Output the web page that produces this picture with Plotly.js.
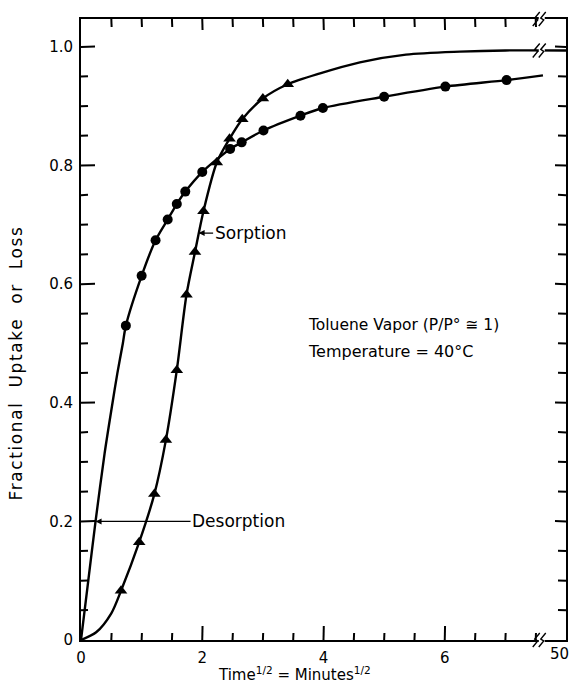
<!DOCTYPE html>
<html>
<head>
<meta charset="utf-8">
<script src="https://cdn.plot.ly/plotly-3.0.1.min.js"></script>
<style>html,body{margin:0;padding:0;background:#fff;}</style>
</head>
<body>
<div id="chart" style="width:571px;height:685px;"></div>
<script>
// Desorption (circles) measured points
const desorpX = [0.74, 1.00, 1.23, 1.43, 1.58, 1.72, 2.00, 2.46, 2.65, 3.01, 3.62, 3.99, 5.00, 6.01, 7.02];
const desorpY = [0.530, 0.614, 0.674, 0.709, 0.735, 0.756, 0.789, 0.828, 0.839, 0.859, 0.884, 0.897, 0.916, 0.933, 0.944];
// Desorption smooth curve
const desorpCurveX = [0, 0.12, 0.24, 0.39, 0.52, 0.60, 0.69, 0.74, 1.00, 1.23, 1.43, 1.58, 1.72, 2.00, 2.46, 2.65, 3.01, 3.62, 3.99, 5.00, 6.01, 7.02, 7.62];
const desorpCurveY = [0, 0.100, 0.200, 0.315, 0.400, 0.450, 0.500, 0.530, 0.614, 0.674, 0.709, 0.735, 0.756, 0.789, 0.828, 0.839, 0.859, 0.884, 0.897, 0.916, 0.933, 0.944, 0.952];

// Sorption (triangles) measured points
const sorpX = [0.66, 0.96, 1.21, 1.40, 1.58, 1.74, 1.88, 2.02, 2.24, 2.45, 2.66, 3.00, 3.41];
const sorpY = [0.083, 0.165, 0.246, 0.337, 0.455, 0.582, 0.654, 0.723, 0.805, 0.845, 0.878, 0.913, 0.937];
// Sorption smooth curve
const sorpCurveX = [0, 0.25, 0.50, 0.66, 0.96, 1.21, 1.40, 1.58, 1.74, 1.88, 2.02, 2.24, 2.45, 2.66, 3.00, 3.41, 3.93, 4.60, 5.36, 6.25, 7.00, 8.00];
const sorpCurveY = [0, 0.013, 0.045, 0.083, 0.165, 0.246, 0.337, 0.455, 0.582, 0.654, 0.723, 0.805, 0.845, 0.878, 0.913, 0.937, 0.955, 0.974, 0.987, 0.992, 0.994, 0.994];

// Axis tick labels
const xTickVals = [0, 2, 4, 6];
const xTickText = ['0', '2', '4', '6'];
const xEndLabel = '50';
const yTickVals = [0, 0.2, 0.4, 0.6, 0.8, 1.0];
const yTickText = ['0', '0.2', '0.4', '0.6', '0.8', '1.0'];
// Tick mark positions
const xMajorTicks = [2, 4, 6];
const xMinorTicks = [0.5, 1, 1.5, 2.5, 3, 3.5, 4.5, 5, 5.5, 6.5, 7, 7.5];
const yMajorTicks = [0.2, 0.4, 0.6, 0.8, 1.0];
const yMinorTicks = [0.05, 0.1, 0.15, 0.25, 0.3, 0.35, 0.45, 0.5, 0.55, 0.65, 0.7, 0.75, 0.85, 0.9, 0.95];

const FONT = 'DejaVu Sans, sans-serif';
const XR = [0, 8];
const YR = [0, 1.047];
const BREAK_X = 7.6;

const traces = [
  {x: desorpCurveX, y: desorpCurveY, mode: 'lines', line: {color: '#000', width: 2.4, shape: 'spline', smoothing: 0.8}, hoverinfo: 'skip', showlegend: false},
  {x: sorpCurveX, y: sorpCurveY, mode: 'lines', line: {color: '#000', width: 2.4, shape: 'spline', smoothing: 0.8}, hoverinfo: 'skip', showlegend: false},
  {x: desorpX, y: desorpY, mode: 'markers', marker: {symbol: 'circle', size: 10, color: '#000'}, name: 'Desorption', showlegend: false},
  {x: sorpX, y: sorpY, mode: 'markers', marker: {symbol: 'triangle-up', size: 11, color: '#000'}, name: 'Sorption', showlegend: false}
];

// tick marks as small pixel-sized paths anchored at the tick values
function xTick(v, len, top) {
  return {type: 'path', xref: 'x', xsizemode: 'pixel', xanchor: v,
          yref: 'paper', ysizemode: 'pixel', yanchor: top ? 1 : 0,
          path: 'M0,0 L0.3,' + (top ? -len : len), line: {color: '#000', width: 2}};
}
function yTick(v, len, right) {
  return {type: 'path', yref: 'y', ysizemode: 'pixel', yanchor: v,
          xref: 'paper', xsizemode: 'pixel', xanchor: right ? 1 : 0,
          path: 'M0,0 L' + (right ? -len : len) + ',0.3', line: {color: '#000', width: 2}};
}
const tickShapes = [].concat(
  xMajorTicks.map(v => xTick(v, 14, false)), xMinorTicks.map(v => xTick(v, 7, false)),
  xMajorTicks.map(v => xTick(v, 11, true)), xMinorTicks.map(v => xTick(v, 8, true)),
  yMajorTicks.map(v => yTick(v, 14, false)), yMinorTicks.map(v => yTick(v, 7, false)),
  yMajorTicks.map(v => yTick(v, 11, true)), yMinorTicks.map(v => yTick(v, 8, true))
);

function breakShapes(yref, yanchor) {
  return [
    {type: 'rect', xref: 'x', xsizemode: 'pixel', xanchor: BREAK_X, x0: -3, x1: 3,
     yref: yref, ysizemode: 'pixel', yanchor: yanchor, y0: -3, y1: 3, fillcolor: '#fff', line: {width: 0}},
    {type: 'path', xref: 'x', xsizemode: 'pixel', xanchor: BREAK_X,
     yref: yref, ysizemode: 'pixel', yanchor: yanchor,
     path: 'M-9,-7 L-4,-1 L-7,1 L-2,7', line: {color: '#000', width: 1.4}},
    {type: 'path', xref: 'x', xsizemode: 'pixel', xanchor: BREAK_X,
     yref: yref, ysizemode: 'pixel', yanchor: yanchor,
     path: 'M-3,-7 L2,-1 L-1,1 L4,7', line: {color: '#000', width: 1.4}}
  ];
}

const axisCommon = {
  showline: true, linewidth: 2, linecolor: '#000', mirror: true,
  ticks: '', showgrid: false, zeroline: false,
  tickfont: {family: FONT, size: 15, color: '#000'}
};

const layout = {
  width: 571, height: 685,
  margin: {l: 81, r: 5, t: 19, b: 45},
  paper_bgcolor: '#fff', plot_bgcolor: '#fff',
  font: {family: FONT, size: 15, color: '#000'},
  xaxis: Object.assign({}, axisCommon, {range: XR, tickmode: 'array', tickvals: xTickVals, ticktext: xTickText, ticklabelstandoff: 3}),
  yaxis: Object.assign({}, axisCommon, {range: YR, tickmode: 'array', tickvals: yTickVals, ticktext: yTickText, ticklabelstandoff: 3}),
  shapes: [].concat(tickShapes, breakShapes('paper', 0), breakShapes('paper', 1), breakShapes('y', 0.994)),
  annotations: [
    {xref: 'paper', yref: 'paper', x: -0.134, y: 0.446, xanchor: 'center', yanchor: 'middle', textangle: -90, showarrow: false,
     text: 'Fractional\u00a0\u00a0Uptake\u00a0\u00a0or\u00a0\u00a0Loss', font: {family: FONT, size: 17, color: '#000'}},
    {xref: 'paper', yref: 'paper', x: 0.441, y: -0.054, xanchor: 'center', yanchor: 'middle', showarrow: false,
     text: 'Time<sup>1/2</sup> = Minutes<sup>1/2</sup>', font: {family: FONT, size: 15, color: '#000'}},
    {xref: 'x', yref: 'paper', x: 8, y: 0, xanchor: 'center', yanchor: 'top', xshift: -7, yshift: -3, showarrow: false,
     text: xEndLabel, font: {family: FONT, size: 15, color: '#000'}},
    {xref: 'x', yref: 'y', x: 3.71, y: 0.531, xanchor: 'left', yanchor: 'middle', showarrow: false,
     text: 'Toluene Vapor (P/P° ≅ 1)', font: {family: FONT, size: 15.5, color: '#000'}},
    {xref: 'x', yref: 'y', x: 3.71, y: 0.486, xanchor: 'left', yanchor: 'middle', showarrow: false,
     text: 'Temperature = 40°C', font: {family: FONT, size: 16, color: '#000'}},
    {xref: 'x', yref: 'y', x: 1.94, y: 0.686, ax: 52, ay: 0, showarrow: true, arrowhead: 2, arrowsize: 1, arrowwidth: 1.2, arrowcolor: '#000',
     text: 'Sorption', font: {family: FONT, size: 17, color: '#000'}},
    {xref: 'x', yref: 'y', x: 0.24, y: 0.2, ax: 143, ay: 0, showarrow: true, arrowhead: 2, arrowsize: 1, arrowwidth: 1.2, arrowcolor: '#000',
     text: 'Desorption', font: {family: FONT, size: 17, color: '#000'}}
  ]
};

Plotly.newPlot('chart', traces, layout, {displayModeBar: false}).then(function () {
  // widen the letter spacing of the y-axis title, as in the hand-lettered original
  var t = document.querySelectorAll('g.annotation text.annotation-text')[0];
  if (t) { t.style.letterSpacing = '1.6px'; }
});
</script>
</body>
</html>
